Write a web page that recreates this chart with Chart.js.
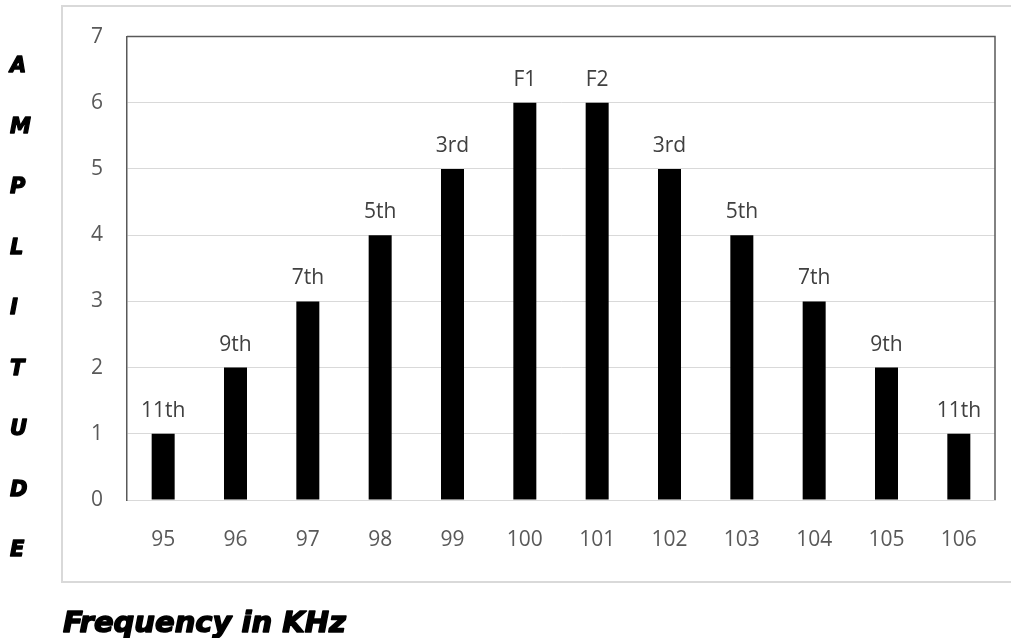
<!DOCTYPE html>
<html>
<head>
<meta charset="utf-8">
<script src="https://cdn.jsdelivr.net/npm/chart.js@4"></script>
<style>
  html, body { margin: 0; padding: 0; background: #ffffff; }
  #wrap { position: relative; width: 1011px; height: 638px; }
</style>
</head>
<body>
<div id="wrap"><canvas id="chart"></canvas></div>
<script>
// Spectrum components around the two carrier tones
const frequencies = ['95', '96', '97', '98', '99', '100', '101', '102', '103', '104', '105', '106'];
const amplitudes = [1, 2, 3, 4, 5, 6, 6, 5, 4, 3, 2, 1];
const componentLabels = ['11th', '9th', '7th', '5th', '3rd', 'F1', 'F2', '3rd', '5th', '7th', '9th', '11th'];
const yTickValues = [0, 1, 2, 3, 4, 5, 6, 7];

const yAxisTitle = 'AMPLITUDE';
const xAxisTitle = 'Frequency in KHz';

const labelFont = '21px "Open Sans", sans-serif';
const titleFontFamily = '"DejaVu Sans", sans-serif';

// heavy text: fill plus a thin stroke of the same colour
function heavyText(ctx, text, x, y, weight) {
  ctx.lineWidth = weight;
  ctx.lineJoin = 'round';
  ctx.strokeStyle = ctx.fillStyle;
  ctx.strokeText(text, x, y);
  ctx.fillText(text, x, y);
}

// Light outer frame, plot border, bar captions and the two axis titles
const decorations = {
  id: 'decorations',
  beforeDraw(chart) {
    const ctx = chart.ctx;
    ctx.save();
    ctx.fillStyle = '#ffffff';
    ctx.fillRect(0, 0, chart.width, chart.height);
    ctx.strokeStyle = '#d9d9d9';
    ctx.lineWidth = 2;
    ctx.strokeRect(62, 6, chart.width + 20, 576);
    ctx.restore();
  },
  afterDatasetsDraw(chart) {
    const ctx = chart.ctx;
    const area = chart.chartArea;
    ctx.save();
    // top and right edges of the plot box
    ctx.strokeStyle = '#595959';
    ctx.lineWidth = 1.5;
    ctx.beginPath();
    ctx.moveTo(area.left, area.top);
    ctx.lineTo(area.right, area.top);
    ctx.lineTo(area.right, area.bottom);
    ctx.stroke();

    // captions above each bar
    ctx.font = labelFont;
    ctx.fillStyle = '#404040';
    ctx.textAlign = 'center';
    ctx.textBaseline = 'alphabetic';
    const meta = chart.getDatasetMeta(0);
    meta.data.forEach((bar, i) => {
      ctx.fillText(componentLabels[i], bar.x, bar.y - 17);
    });

    // stacked vertical title
    ctx.fillStyle = '#000000';
    ctx.font = 'italic bold 21px ' + titleFontFamily;
    ctx.textAlign = 'left';
    ctx.textBaseline = 'middle';
    yAxisTitle.split('').forEach((ch, i) => {
      heavyText(ctx, ch, 10, 67 + i * 60.5, 1.3);
    });

    // horizontal title under the frame
    ctx.font = 'italic bold 29px ' + titleFontFamily;
    ctx.textBaseline = 'alphabetic';
    heavyText(ctx, xAxisTitle, 63, 632, 1.5);
    ctx.restore();
  }
};

new Chart(document.getElementById('chart'), {
  type: 'bar',
  data: {
    labels: frequencies,
    datasets: [{
      data: amplitudes,
      backgroundColor: '#000000',
      borderWidth: 0,
      categoryPercentage: 1.0,
      barPercentage: 0.318
    }]
  },
  options: {
    responsive: true,
    maintainAspectRatio: false,
    animation: false,
    devicePixelRatio: 1,
    layout: { padding: { left: 62, top: 35, right: 16, bottom: 0 } },
    plugins: {
      legend: { display: false },
      tooltip: { enabled: false },
      title: { display: false }
    },
    scales: {
      x: {
        afterFit(scale) { scale.height = 138; },
        grid: { display: true, drawOnChartArea: false, drawTicks: false },
        border: { display: true, color: '#d9d9d9', width: 1 },
        ticks: {
          color: '#595959',
          font: { family: '"Open Sans", sans-serif', size: 21 },
          padding: 27,
          maxRotation: 0
        }
      },
      y: {
        min: 0,
        max: 7,
        afterFit(scale) { scale.width = 65; },
        afterBuildTicks(scale) {
          scale.ticks = yTickValues.map(v => ({ value: v }));
        },
        grid: { color: '#d9d9d9', lineWidth: 1, drawTicks: false },
        border: { display: true, color: '#595959', width: 1.5 },
        ticks: {
          color: '#595959',
          font: { family: '"Open Sans", sans-serif', size: 21 },
          padding: 24
        }
      }
    }
  },
  plugins: [decorations]
});
</script>
</body>
</html>
